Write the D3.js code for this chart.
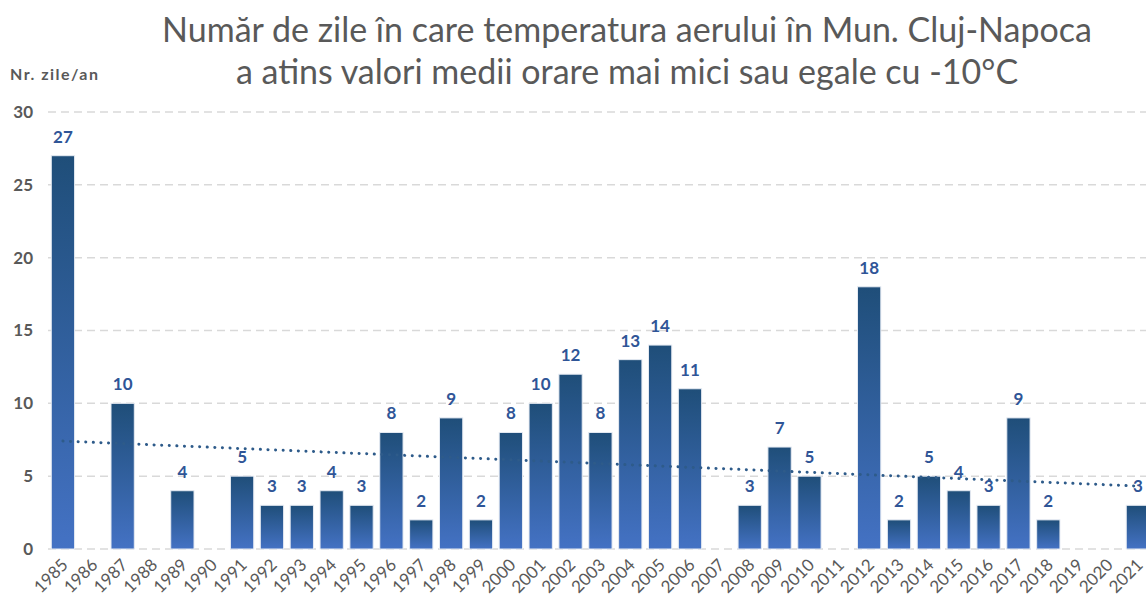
<!DOCTYPE html>
<html>
<head>
<meta charset="utf-8">
<script src="https://cdn.jsdelivr.net/npm/d3@7"></script>
<style>
  body { margin: 0; background: #fff; }
  svg { display: block; font-family: Lato, "Open Sans", sans-serif; }
</style>
</head>
<body>
<div id="chart"></div>
<script>
var width = 1146,
    height = 599;

// years on the x axis
var years = ["1985","1986","1987","1988","1989","1990","1991","1992","1993","1994",
  "1995","1996","1997","1998","1999","2000","2001","2002","2003","2004","2005",
  "2006","2007","2008","2009","2010","2011","2012","2013","2014","2015","2016",
  "2017","2018","2019","2020","2021"];
// days per year with hourly mean <= -10°C (null = no bar)
var days = [27, null, 10, null, 4, null, 5, 3, 3, 4, 3, 8, 2, 9, 2, 8, 10, 12, 8, 13,
  14, 11, null, 3, 7, 5, null, 18, 2, 5, 4, 3, 9, 2, null, null, 3];
var yTicks = [0, 5, 10, 15, 20, 25, 30];
var titleLines = ["Număr de zile în care temperatura aerului în Mun. Cluj-Napoca",
  "a atins valori medii orare mai mici sau egale cu -10°C"];
var yLabel = "Nr. zile/an";

var plotLeft = 48, plotTop = 112, plotBottom = 549;
var step = 29.86;

var svg = d3.select("#chart").append("svg")
  .attr("width", width)
  .attr("height", height);

var defs = svg.append("defs");
var grad = defs.append("linearGradient")
  .attr("id", "barGrad")
  .attr("x1", 0).attr("y1", 0).attr("x2", 0).attr("y2", 1);
grad.append("stop").attr("offset", "0%").attr("stop-color", "#1f4e79");
grad.append("stop").attr("offset", "100%").attr("stop-color", "#4472c4");

var x = d3.scaleBand()
  .domain(years)
  .range([plotLeft, plotLeft + step * years.length])
  .paddingInner(0.22)
  .paddingOuter(0.11);

var y = d3.scaleLinear()
  .domain([0, 30])
  .range([plotBottom, plotTop]);

// title
svg.append("g").selectAll("text")
  .data(titleLines)
  .enter().append("text")
    .attr("x", 627)
    .attr("y", function(d, i) { return 42 + i * 42; })
    .attr("text-anchor", "middle")
    .attr("fill", "#595959")
    .style("font-size", "34px")
    .text(function(d) { return d; });

// y axis title
svg.append("text")
  .attr("x", 10)
  .attr("y", 80)
  .attr("fill", "#595959")
  .attr("textLength", 88)
  .attr("lengthAdjust", "spacing")
  .style("font-size", "16px")
  .style("font-weight", "bold")
  .text(yLabel);

// gridlines
svg.append("g").selectAll("line")
  .data(yTicks)
  .enter().append("line")
    .attr("x1", plotLeft)
    .attr("x2", width)
    .attr("y1", function(d) { return y(d); })
    .attr("y2", function(d) { return y(d); })
    .attr("stroke", "#d9d9d9")
    .attr("stroke-width", 1.5)
    .attr("stroke-dasharray", "8,5");

// y tick labels
var yAxis = svg.append("g")
  .attr("transform", "translate(" + (plotLeft - 15) + ",0)")
  .call(d3.axisLeft(y).tickValues(yTicks).tickSize(0).tickPadding(0));
yAxis.select(".domain").remove();
yAxis.selectAll("text")
  .attr("fill", "#595959")
  .style("font-size", "17px")
  .style("font-weight", "bold")
  .style("font-family", "Lato, sans-serif");

// bars
var barData = years.map(function(yr, i) { return {year: yr, value: days[i]}; })
  .filter(function(d) { return d.value !== null; });

svg.append("g").selectAll("rect")
  .data(barData)
  .enter().append("rect")
    .attr("x", function(d) { return x(d.year); })
    .attr("width", x.bandwidth())
    .attr("y", function(d) { return y(d.value); })
    .attr("height", function(d) { return y(0) - y(d.value); })
    .attr("fill", "url(#barGrad)")
    .attr("stroke", "#e6ebf3")
    .attr("stroke-width", 1);

// linear trendline (blanks count as zero, like the spreadsheet)
var n = years.length;
var vals = days.map(function(v) { return v === null ? 0 : v; });
var mx = (n - 1) / 2, my = d3.mean(vals);
var sxy = d3.sum(vals, function(v, i) { return (i - mx) * (v - my); });
var sxx = d3.sum(vals, function(v, i) { return (i - mx) * (i - mx); });
var slope = sxy / sxx, intercept = my - slope * mx;
var trend = years.map(function(yr, i) { return [yr, intercept + slope * i]; });

svg.append("path")
  .datum(trend)
  .attr("fill", "none")
  .attr("stroke", "#2e5b8a")
  .attr("stroke-width", 3)
  .attr("stroke-linecap", "round")
  .attr("stroke-dasharray", "0.1,7.5")
  .attr("d", d3.line()
    .x(function(d) { return x(d[0]) + x.bandwidth() / 2; })
    .y(function(d) { return y(d[1]); }));

// value labels
svg.append("g").selectAll("text")
  .data(barData)
  .enter().append("text")
    .attr("x", function(d) { return x(d.year) + x.bandwidth() / 2; })
    .attr("y", function(d) { return y(d.value) - 13; })
    .attr("text-anchor", "middle")
    .attr("fill", "#2f5597")
    .style("font-size", "17px")
    .style("font-weight", "bold")
    .text(function(d) { return d.value; });

// x labels, rotated
svg.append("g").selectAll("text")
  .data(years)
  .enter().append("text")
    .attr("transform", function(d) {
      return "translate(" + (x(d) + x.bandwidth() / 2 + 6) + "," + 566 + ") rotate(-45)";
    })
    .attr("text-anchor", "end")
    .attr("fill", "#595959")
    .style("font-size", "17px")
    .text(function(d) { return d; });
</script>
</body>
</html>
